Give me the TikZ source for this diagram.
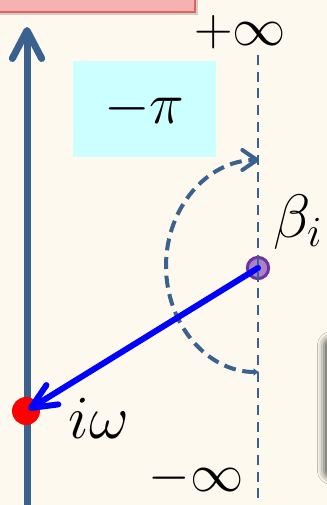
\RequirePackage{fix-cm}
\documentclass[tikz,border=0pt]{standalone}
\usetikzlibrary{arrows.meta,shadows,shadows.blur}

\definecolor{bgcream}{RGB}{253,249,238}
\definecolor{axisblue}{RGB}{59,97,143}
\definecolor{boxcyan}{RGB}{204,255,255}
\definecolor{ptpurple}{RGB}{112,48,160}
\definecolor{notepink}{RGB}{246,178,174}
\definecolor{notered}{RGB}{226,98,98}

\tikzset{
  bigmath/.style={inner sep=0pt, font=\fontsize{40}{48}\selectfont},
  letmath/.style={inner sep=0pt, font=\fontsize{46}{54}\selectfont},
  phasebox/.style={inner sep=0pt, font=\fontsize{44}{52}\selectfont, fill=boxcyan, minimum width=107.25pt, minimum height=72pt},
}

\begin{document}
\begin{tikzpicture}[x=0.75pt,y=0.75pt,yscale=-1,xscale=1]
\useasboundingbox (0,0) rectangle (327,505);
%Background
\fill[bgcream] (0,0) rectangle (327,505);

%Shape: Rectangle (note box, cut off at top)
\draw[notered, fill=notepink, line width=1.2pt, drop shadow={shadow xshift=2pt, shadow yshift=-2pt, opacity=0.35}] (-20,-40) rectangle (195,12);
%Shape: shadow of a box beyond the right edge
\path[rounded corners=6pt, blur shadow={shadow xshift=0pt, shadow yshift=0pt, shadow blur radius=5pt, shadow opacity=65}] (324,338) rectangle (380,478);

%Straight Lines (imaginary axis)
\coordinate (axbot) at (27,505);
\coordinate (axtop) at (27,27);
\draw[axisblue, line width=5.25pt, -{Straight Barb[length=21pt, width=22pt, round]}] (axbot) -- (axtop);

%Shape: Circle (pole)
\node[circle, draw=ptpurple, fill=ptpurple!60!white, line width=2.25pt, inner sep=0pt, minimum size=16pt] (beta) at (258,268) {};

%Straight Lines (dashed vertical through the pole)
\coordinate (dtop) at (258,55);
\coordinate (dbot) at (258,505);
\draw[axisblue, line width=1.5pt, dash pattern=on 7.5pt off 5pt] (dtop) -- (dbot);

%Curve Lines (half turn)
\coordinate (arcbot) at (259,372);
\draw[axisblue, line width=3pt, dash pattern=on 9pt off 5pt, {Latex[length=4pt, width=6pt]}-{Straight Barb[length=11pt, width=15pt, round]}] (arcbot) arc[start angle=90, end angle=270, x radius=93, y radius=106];

%Shape: Circle (point on the axis)
\node[circle, fill=red, inner sep=0pt, minimum size=21pt] (iw) at (26,411) {};

%Straight Lines (vector)
\draw[blue, line width=4.5pt, line cap=round, shorten >=2pt, -{Straight Barb[length=19pt, width=17pt, round]}] (beta.center) -- (iw.center);

% Text Node
\node[phasebox] (phase) at (144.5,109) {$-\pi$};
% Text Node
\node[bigmath] (pinf) at (240,32) {$+\infty$};
% Text Node
\node[bigmath] (minf) at (196,478) {$-\infty$};
% Text Node
\node[letmath, anchor=west] (blab) at (273,222) {$\beta_i$};
% Text Node
\node[letmath] (wlab) at (99,418) {$i\omega$};

\end{tikzpicture}
\end{document}
